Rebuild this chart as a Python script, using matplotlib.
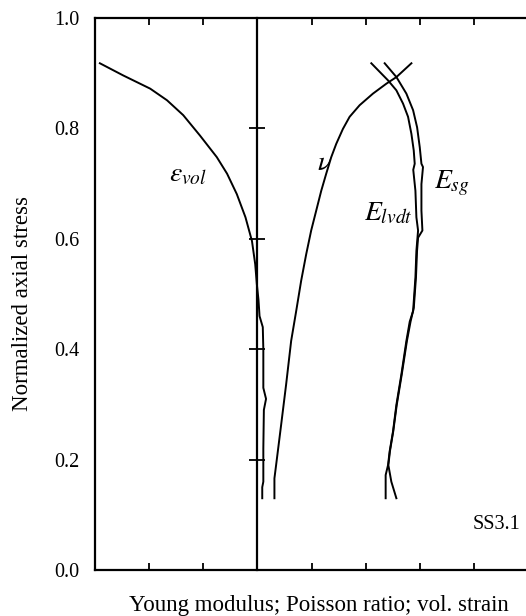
import matplotlib.pyplot as plt

plt.rcParams['font.family'] = 'Liberation Serif'
plt.rcParams['mathtext.fontset'] = 'stix'

# volumetric strain
evol_x = [-2.91, -2.48, -1.98, -1.67, -1.37, -1.06, -0.75, -0.56, -0.38, -0.22, -0.10, -0.04,
          -0.01, 0.02, 0.04, 0.10, 0.11, 0.11, 0.16, 0.12, 0.11, 0.11, 0.09, 0.09]
evol_y = [0.918, 0.896, 0.872, 0.851, 0.824, 0.787, 0.748, 0.718, 0.681, 0.639, 0.596, 0.554,
          0.518, 0.49, 0.46, 0.44, 0.40, 0.33, 0.31, 0.29, 0.22, 0.16, 0.15, 0.13]

# Poisson ratio
nu_x = [0.315, 0.315, 0.346, 0.439, 0.531, 0.624, 0.717, 0.809, 0.902, 0.994, 1.087, 1.180,
        1.272, 1.365, 1.457, 1.580, 1.704, 1.889, 2.135, 2.383, 2.569, 2.846]
nu_y = [0.13, 0.166, 0.190, 0.263, 0.336, 0.415, 0.469, 0.524, 0.572, 0.615, 0.651, 0.687,
        0.718, 0.748, 0.772, 0.799, 0.821, 0.842, 0.863, 0.881, 0.893, 0.918]

# Young modulus (LVDT)
elvdt_x = [2.105, 2.414, 2.568, 2.691, 2.784, 2.846, 2.889, 2.907, 2.88, 2.92, 2.938, 2.969,
           2.938, 2.92, 2.877, 2.815, 2.753, 2.660, 2.568, 2.506, 2.444, 2.414, 2.37, 2.37]
elvdt_y = [0.918, 0.887, 0.869, 0.845, 0.821, 0.790, 0.760, 0.736, 0.725, 0.687, 0.639, 0.615,
           0.578, 0.530, 0.469, 0.45, 0.415, 0.354, 0.299, 0.251, 0.215, 0.190, 0.172, 0.13]

# Young modulus (strain gauge)
esg_x = [2.352, 2.569, 2.753, 2.877, 2.951, 3.0, 3.031, 3.06, 3.031, 3.031, 3.049, 2.969,
         2.95, 2.93, 2.89, 2.83, 2.763, 2.667, 2.575, 2.51, 2.449, 2.42, 2.475, 2.568]
esg_y = [0.918, 0.893, 0.863, 0.833, 0.802, 0.766, 0.736, 0.73, 0.699, 0.651, 0.615, 0.602,
         0.578, 0.530, 0.475, 0.45, 0.415, 0.354, 0.299, 0.251, 0.215, 0.190, 0.16, 0.13]

yticks = [0.0, 0.2, 0.4, 0.6, 0.8, 1.0]
xticks = [-2, -1, 0, 1, 2, 3, 4]
xlim = (-3, 5)

fig = plt.figure(figsize=(5.26, 6.16), dpi=100)
ax = fig.add_axes([95 / 526, 46 / 616, 433 / 526, 552 / 616])

lw = 1.4
ax.plot(evol_x, evol_y, color='black', lw=lw)
ax.plot(nu_x, nu_y, color='black', lw=lw)
ax.plot(elvdt_x, elvdt_y, color='black', lw=lw)
ax.plot(esg_x, esg_y, color='black', lw=lw)

ax.set_xlim(xlim)
ax.set_ylim(0, 1.0)
ax.spines['right'].set_visible(False)
for s in ['left', 'top', 'bottom']:
    ax.spines[s].set_linewidth(1.6)

ax.set_yticks(yticks)
ax.set_yticklabels(['%.1f' % v for v in yticks])
ax.tick_params(axis='y', length=0, pad=11, labelsize=14.5)
ax.set_xticks(xticks)
ax.tick_params(axis='x', direction='in', length=5, width=1.3, top=True, labelbottom=False)

# central axis with ticks
sec = ax.secondary_yaxis((0 - xlim[0]) / (xlim[1] - xlim[0]))
sec.set_yticks([0.2, 0.4, 0.6, 0.8])
sec.tick_params(direction='inout', length=11, width=1.3, labelleft=False, labelright=False)
sec.spines['left'].set_linewidth(1.6)
sec.spines['right'].set_linewidth(1.6)

ax.set_ylabel('Normalized axial stress', fontsize=16.5)
ax.yaxis.set_label_coords(-0.143, 0.482)
ax.set_xlabel('Young modulus; Poisson ratio; vol. strain', fontsize=16.5)
ax.xaxis.set_label_coords(0.517, -0.045)

ax.text(-1.28, 0.715, r'$\varepsilon_{vol}$', fontsize=20, ha='center', va='center')
ax.text(1.24, 0.736, r'$\nu$', fontsize=20, ha='center', va='center')
ax.text(3.59, 0.70, r'$E_{sg}$', fontsize=20, ha='center', va='center')
ax.text(2.41, 0.645, r'$E_{lvdt}$', fontsize=20, ha='center', va='center')
ax.text(4.85, 0.082, 'SS3.1', fontsize=14.5, ha='right', va='center')

fig.savefig('out.png', dpi=100)
